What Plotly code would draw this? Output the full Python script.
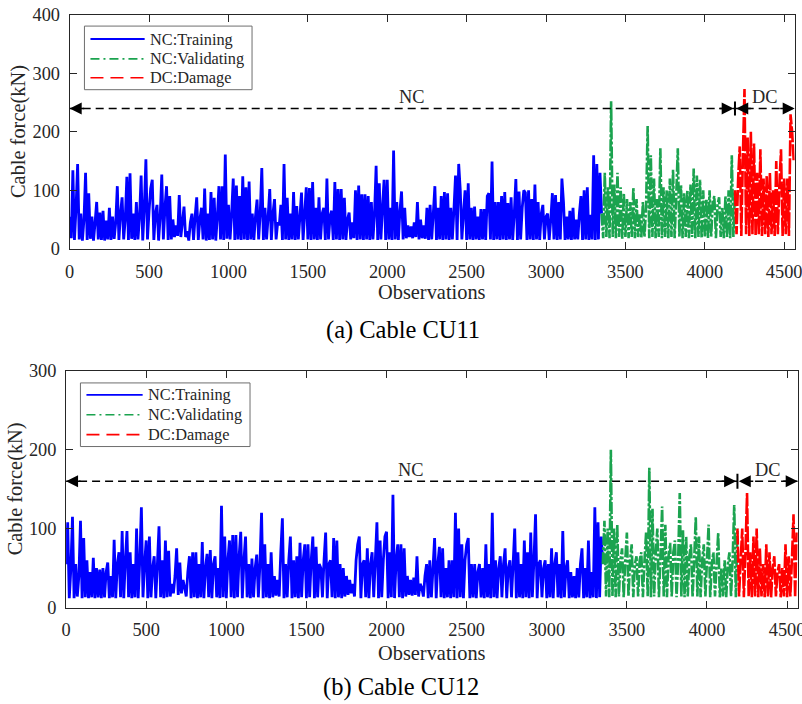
import numpy as np
import plotly.graph_objects as go

# ---------------- data (observation step = 10) ----------------
STEP = 10
X_MAX = 4566

# (a) Cable CU11
a_train = [
    55, 18, 134, 15, 70, 145, 16, 60, 14, 50, 130, 15, 95, 17, 55, 14, 45, 80, 16, 62,
    15, 65, 14, 48, 16, 70, 15, 55, 17, 45, 107, 15, 60, 88, 16, 50, 123, 15, 129, 17,
    60, 15, 80, 16, 55, 125, 14, 70, 153, 16, 65, 103, 118, 15, 60, 75, 14, 55, 127, 16,
    70, 107, 15, 90, 16, 50, 20, 40, 22, 92, 20, 45, 72, 20, 30, 14, 45, 60, 15, 55,
    88, 15, 50, 70, 16, 103, 14, 60, 15, 97, 16, 87, 14, 55, 107, 16, 107, 15, 161, 17,
    75, 16, 60, 120, 15, 108, 16, 90, 15, 124, 16, 105, 15, 115, 16, 60, 15, 55, 84, 16,
    60, 138, 15, 70, 16, 55, 102, 15, 60, 85, 16, 45, 40, 75, 15, 145, 16, 87, 15, 60,
    16, 97, 15, 73, 16, 55, 96, 15, 60, 105, 16, 104, 15, 114, 16, 70, 15, 88, 16, 60,
    70, 15, 120, 16, 55, 65, 15, 114, 16, 102, 15, 102, 16, 87, 15, 50, 62, 16, 45, 18,
    100, 15, 108, 16, 93, 15, 93, 16, 90, 15, 80, 16, 60, 142, 15, 112, 16, 70, 118, 15,
    118, 16, 70, 15, 168, 16, 80, 15, 65, 98, 16, 70, 18, 40, 20, 38, 18, 45, 20, 80,
    16, 50, 18, 40, 17, 70, 15, 75, 16, 60, 107, 15, 70, 16, 90, 15, 97, 16, 95, 15,
    70, 16, 67, 125, 15, 145, 100, 16, 60, 100, 15, 112, 16, 70, 15, 72, 16, 55, 15, 68,
    16, 68, 15, 90, 95, 16, 149, 15, 80, 16, 80, 15, 90, 16, 97, 15, 78, 16, 88, 15,
    60, 119, 15, 98, 16, 70, 100, 96, 15, 100, 16, 85, 15, 110, 16, 80, 15, 60, 75, 16,
    55, 60, 15, 50, 95, 16, 92, 15, 80, 16, 120, 80, 15, 55, 16, 65, 15, 70, 16, 50,
    16, 60, 90, 15, 100, 16, 105, 15, 58, 16, 160, 15, 145, 16, 130, 60,
]
a_valid = [
    60, 18, 130, 20, 105, 18, 252, 20, 110, 18, 130, 20, 105, 17, 95, 20, 85, 18, 80, 20,
    105, 18, 85, 20, 60, 18, 80, 20, 70, 210, 18, 160, 20, 120, 18, 85, 20, 172, 18, 105,
    20, 100, 18, 120, 20, 135, 18, 90, 172, 20, 110, 18, 95, 20, 100, 18, 110, 20, 137, 18,
    125, 20, 118, 18, 100, 20, 85, 18, 100, 20, 80, 90, 18, 75, 88, 20, 70, 18, 90, 20,
    100, 18, 160, 20, 100,
]
a_damage = [
    100, 25, 120, 175, 22, 160, 273, 25, 190, 22, 200, 25, 180, 22, 130, 25, 170, 22, 120, 25,
    125, 20, 130, 25, 100, 22, 150, 25, 110, 170, 22, 120, 25, 120, 22, 230, 200, 150,
]

# (b) Cable CU12
b_train = [
    55, 108, 12, 50, 115, 12, 55, 14, 40, 110, 12, 88, 13, 60, 12, 45, 13, 63, 12, 50,
    13, 48, 12, 50, 13, 45, 57, 12, 40, 13, 86, 12, 55, 70, 13, 97, 12, 60, 97, 13,
    70, 12, 55, 13, 100, 12, 60, 127, 13, 55, 85, 12, 90, 13, 50, 65, 12, 55, 103, 13,
    60, 12, 85, 13, 72, 14, 30, 18, 40, 75, 16, 57, 18, 35, 25, 14, 45, 65, 12, 70,
    13, 70, 12, 55, 13, 83, 12, 50, 68, 13, 73, 12, 55, 65, 13, 50, 12, 129, 13, 90,
    12, 60, 85, 13, 92, 12, 92, 13, 65, 96, 12, 60, 90, 13, 55, 12, 62, 13, 50, 67,
    13, 55, 120, 12, 80, 13, 55, 12, 70, 13, 40, 15, 35, 14, 70, 113, 12, 55, 13, 60,
    90, 12, 60, 13, 65, 12, 82, 13, 60, 80, 12, 80, 13, 60, 90, 12, 77, 13, 55, 50,
    13, 60, 95, 12, 55, 60, 13, 88, 12, 85, 13, 55, 12, 50, 14, 40, 16, 35, 18, 30,
    14, 60, 80, 90, 12, 55, 60, 13, 75, 12, 55, 70, 13, 60, 108, 12, 85, 13, 60, 90,
    96, 12, 70, 13, 143, 12, 60, 80, 13, 80, 12, 75, 14, 40, 16, 35, 15, 38, 16, 65,
    14, 30, 25, 14, 40, 55, 12, 60, 13, 50, 88, 12, 55, 77, 13, 75, 12, 50, 13, 60,
    12, 60, 13, 120, 12, 100, 13, 80, 12, 60, 80, 88, 12, 55, 13, 55, 12, 45, 55, 13,
    50, 12, 80, 13, 55, 12, 120, 13, 60, 12, 50, 65, 13, 55, 75, 12, 50, 60, 13, 55,
    100, 12, 70, 13, 55, 12, 85, 13, 70, 12, 95, 13, 60, 118, 12, 55, 60, 13, 50, 60,
    12, 55, 13, 75, 12, 55, 70, 13, 55, 12, 97, 13, 50, 60, 12, 45, 13, 40, 12, 50,
    13, 55, 75, 12, 50, 13, 85, 12, 45, 13, 127, 12, 108, 13, 90, 55,
]
b_valid = [
    55, 110, 14, 100, 13, 200, 14, 100, 13, 105, 14, 60, 75, 13, 60, 95, 14, 60, 80, 13,
    55, 65, 14, 60, 70, 13, 60, 95, 14, 177, 13, 125, 14, 70, 100, 13, 65, 128, 14, 105,
    13, 65, 82, 14, 70, 85, 13, 60, 145, 14, 98, 13, 90, 14, 65, 80, 13, 60, 115, 14,
    90, 13, 60, 80, 14, 60, 105, 13, 55, 70, 14, 55, 95, 13, 50, 14, 60, 13, 55, 70,
    14, 60, 130, 13, 100,
]
b_damage = [
    100, 14, 60, 100, 13, 70, 145, 14, 70, 13, 90, 14, 100, 13, 75, 14, 55, 13, 80, 14,
    70, 13, 50, 65, 14, 45, 55, 13, 50, 14, 80, 13, 65, 14, 60, 118, 13, 95,
]

x_tick_vals = [0, 500, 1000, 1500, 2000, 2500, 3000, 3500, 4000, 4500]
y_ticks_a = [0, 100, 200, 300, 400]
y_ticks_b = [0, 100, 200, 300]
series_names = ["NC:Training", "NC:Validating", "DC:Damage"]
captions = ["(a) Cable CU11", "(b) Cable CU12"]

# ---------------- page geometry ----------------
# The page body keeps an 8 px margin and the captured page area is
# (802+16)x(704+16); target positions below are in final picture pixels.
OFF = 8
SX, SY = 802 / 818, 704 / 720
WF, HF = 810, 712
K = 1 / SX  # size compensation


def FX(rx):
    return (rx / SX - OFF) / WF


def FY(ry):
    return 1 - (ry / SY - OFF) / HF


FONT = "Liberation Serif"
AX = "#262626"
COLORS = ["#0000ff", "#1ba34f", "#ff0000"]
DASHES = ["solid", "12px,2px,3px,2px", "16px,2px"]
WIDTHS = [2.8, 2.6, 2.6]
LEG_DASHES = ["solid", "9px,4px,2px,4px", "13px,7px"]
LEG_WIDTHS = [1.8, 1.6, 1.6]


def xs_for(train, valid, damage):
    xt = np.arange(len(train)) * STEP
    xv = xt[-1] + np.arange(len(valid)) * STEP
    xd = xv[-1] + np.arange(len(damage)) * STEP
    return xt, xv, xd


fig = go.Figure()
panels = [
    dict(data=(a_train, a_valid, a_damage), xa="x", ya="y"),
    dict(data=(b_train, b_valid, b_damage), xa="x2", ya="y2"),
]
bounds = []
for p in panels:
    tr, va, da = p["data"]
    xt, xv, xd = xs_for(tr, va, da)
    bounds.append(int(xv[-1]))
    for xs, ys, nm, c, d, w in zip((xt, xv, xd), (tr, va, da), series_names, COLORS, DASHES, WIDTHS):
        fig.add_trace(go.Scatter(
            x=xs, y=ys, mode="lines", name=nm, showlegend=False,
            line=dict(color=c, width=w, dash=d, simplify=False),
            xaxis=p["xa"], yaxis=p["ya"],
        ))

axis_common = dict(
    showline=True, linecolor=AX, linewidth=1, mirror="allticks",
    ticks="inside", ticklen=7, tickcolor=AX, tickwidth=1,
    showgrid=False, zeroline=False, ticklabeloverflow="allow",
    tickfont=dict(family=FONT, size=18 * K, color=AX),
)

# plot areas in picture pixels
pa = dict(l=72.3, r=794.7, t=12.7, b=248.0)
pb = dict(l=68.7, r=797.7, t=370.7, b=609.0)

fig.update_layout(
    width=WF, height=HF,
    margin=dict(l=0, r=0, t=0, b=0),
    paper_bgcolor="white", plot_bgcolor="white",
    xaxis=dict(domain=[FX(pa["l"]), FX(pa["r"])], range=[0, X_MAX], tickvals=x_tick_vals, anchor="y",
               ticklabelstandoff=6, **axis_common),
    yaxis=dict(domain=[FY(pa["b"]), FY(pa["t"])], range=[0, 400], tickvals=y_ticks_a, anchor="x",
               ticklabelstandoff=5, **axis_common),
    xaxis2=dict(domain=[FX(pb["l"]), FX(pb["r"])], range=[0, X_MAX], tickvals=x_tick_vals, anchor="y2",
                ticklabelstandoff=5, **axis_common),
    yaxis2=dict(domain=[FY(pb["b"]), FY(pb["t"])], range=[0, 300], tickvals=y_ticks_b, anchor="x2",
                ticklabelstandoff=5, **axis_common),
    showlegend=False,
)

annotations = []
shapes = []
arrow_levels = [240, 160]
bar_half = [12, 9.5]
for i, (xa, ya) in enumerate((("x", "y"), ("x2", "y2"))):
    yl = arrow_levels[i]
    bd = bounds[i]
    shapes.append(dict(type="line", xref=xa, yref=ya, x0=0, x1=X_MAX, y0=yl, y1=yl,
                       line=dict(color="black", width=1.5, dash="8px,5px")))
    shapes.append(dict(type="line", xref=xa, yref=ya, x0=bd, x1=bd,
                       y0=yl - bar_half[i], y1=yl + bar_half[i],
                       line=dict(color="black", width=2)))
    for hx, dx in ((0, 16), (bd - 8, -16), (bd + 8, 16), (X_MAX, -16)):
        annotations.append(dict(x=hx, y=yl, xref=xa, yref=ya, text="", showarrow=True,
                                ax=dx, ay=0, arrowhead=2, arrowsize=1.6, arrowwidth=1.5,
                                arrowcolor="black", standoff=0))
    annotations.append(dict(x=2150, y=yl, xref=xa, yref=ya, text="NC", showarrow=False,
                            yanchor="middle", yshift=11 * K,
                            font=dict(family=FONT, size=18 * K, color=AX)))
    annotations.append(dict(x=(bd + X_MAX) / 2, y=yl, xref=xa, yref=ya, text="DC", showarrow=False,
                            yanchor="middle", yshift=11 * K,
                            font=dict(family=FONT, size=18 * K, color=AX)))

# hand-drawn legend boxes (picture pixels)
legend_boxes = [
    dict(x0=87, x1=254, y0=24, y1=88, lx0=93, lx1=147, tx=150, rows=[37, 57, 76]),
    dict(x0=83, x1=252, y0=383, y1=447, lx0=89, lx1=145, tx=148, rows=[395, 415, 435]),
]
for lb in legend_boxes:
    shapes.append(dict(type="rect", xref="paper", yref="paper",
                       x0=FX(lb["x0"]), x1=FX(lb["x1"]), y0=FY(lb["y1"]), y1=FY(lb["y0"]),
                       line=dict(color="#6e6e6e", width=1), fillcolor="white", layer="above"))
    for ry, nm, c, d, w in zip(lb["rows"], series_names, COLORS, LEG_DASHES, LEG_WIDTHS):
        shapes.append(dict(type="line", xref="paper", yref="paper",
                           x0=FX(lb["lx0"]), x1=FX(lb["lx1"]), y0=FY(ry), y1=FY(ry),
                           line=dict(color=c, width=w, dash=d), layer="above"))
        annotations.append(dict(x=FX(lb["tx"]), y=FY(ry), xref="paper", yref="paper",
                                text=nm, showarrow=False, xanchor="left", yanchor="middle",
                                font=dict(family=FONT, size=16 * K, color=AX)))

# axis titles and captions
for p, cap, capx, capy, obsy, ytx in ((pa, captions[0], 404, 330, 292, 22), (pb, captions[1], 402, 689, 655, 18)):
    cx = (p["l"] + p["r"]) / 2
    cy = (p["t"] + p["b"]) / 2
    annotations.append(dict(x=FX(cx), y=FY(obsy), xref="paper", yref="paper", text="Observations",
                            showarrow=False, xanchor="center", yanchor="middle",
                            font=dict(family=FONT, size=20 * K, color=AX)))
    annotations.append(dict(x=FX(ytx), y=FY(cy), xref="paper", yref="paper", text="Cable force(kN)",
                            showarrow=False, textangle=-90, xanchor="center", yanchor="middle",
                            font=dict(family=FONT, size=20 * K, color=AX)))
    annotations.append(dict(x=FX(capx), y=FY(capy), xref="paper", yref="paper", text=cap,
                            showarrow=False, xanchor="center", yanchor="middle",
                            font=dict(family=FONT, size=24 * K, color="black")))

fig.update_layout(annotations=annotations, shapes=shapes)
fig.write_html("out.html")
